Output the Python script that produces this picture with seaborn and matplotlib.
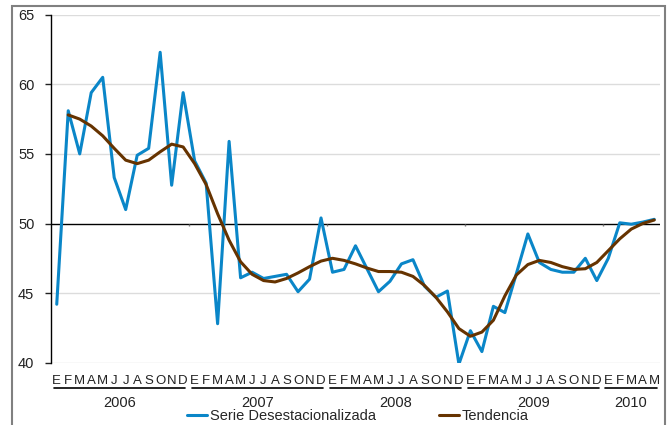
import numpy as np
import pandas as pd
import matplotlib
matplotlib.use("Agg")
import matplotlib.pyplot as plt
import seaborn as sns
from matplotlib.patches import Rectangle

# ---- data ----
month_labels = (["E", "F", "M", "A", "M", "J", "J", "A", "S", "O", "N", "D"] * 4
                + ["E", "F", "M", "A", "M"])
years = ["2006", "2007", "2008", "2009", "2010"]
year_months = [12, 12, 12, 12, 5]

serie = [44.2, 58.1, 55.0, 59.4, 60.5, 53.3, 51.0, 54.9, 55.4, 62.3, 52.75, 59.4,
         54.5, 52.9, 42.8, 55.9, 46.1, 46.5, 46.05, 46.2, 46.35, 45.1, 46.0, 50.4,
         46.5, 46.7, 48.4, 46.75, 45.1, 45.85, 47.1, 47.4, 45.5, 44.7, 45.15, 39.9,
         42.3, 40.8, 44.05, 43.6, 46.4, 49.25, 47.2, 46.7, 46.5, 46.5, 47.5, 45.9,
         47.5, 50.05, 49.95, 50.1, 50.3]
tendencia = [np.nan, 57.8, 57.5, 57.0, 56.3, 55.4, 54.55, 54.3, 54.55, 55.15, 55.7, 55.5,
             54.3, 52.8, 50.7, 48.8, 47.25, 46.35, 45.9, 45.8, 46.05, 46.45, 46.9, 47.3,
             47.5, 47.35, 47.1, 46.8, 46.55, 46.55, 46.5, 46.2, 45.55, 44.7, 43.65, 42.45,
             41.9, 42.2, 43.05, 44.8, 46.3, 47.05, 47.35, 47.2, 46.9, 46.7, 46.75, 47.2,
             48.05, 48.9, 49.6, 50.0, 50.25]

yticks = [40, 45, 50, 55, 60, 65]

# ---- build ----
n = len(serie)
idx = np.arange(n)
df = pd.DataFrame({
    "i": np.concatenate([idx, idx]),
    "valor": serie + tendencia,
    "serie": ["Serie Desestacionalizada"] * n + ["Tendencia"] * n,
})

sns.set_style("white")
plt.rcParams["font.family"] = ["Liberation Sans", "DejaVu Sans"]

fig = plt.figure(figsize=(6.69, 4.25), dpi=100)
ax = fig.add_axes([51 / 669, 1 - 362.7 / 425, (660 - 51) / 669, (362.7 - 14.7) / 425])

palette = {"Serie Desestacionalizada": "#0A86C8", "Tendencia": "#663300"}
sns.lineplot(data=df, x="i", y="valor", hue="serie", palette=palette,
             linewidth=2.2, ax=ax, legend=True)

ax.set_xlim(-0.5, n - 0.5)
ax.set_ylim(40, 65)
ax.set_yticks(yticks)
ax.set_yticklabels([str(t) for t in yticks], fontsize=10.5, color="#222222")
for t in yticks:
    if t != 50:
        ax.axhline(t, color="#dcdcdc", lw=1.0, zorder=0)
ax.axhline(50, color="black", lw=1.0, zorder=1)
# small ticks on the category axis (year boundaries)
bounds = np.cumsum(year_months)[:-1] - 0.5
ax.vlines(bounds, 49.8, 50.0, color="#777777", lw=1.0, zorder=1)

ax.set_xticks(idx)
ax.set_xticklabels(month_labels, fontsize=9.5, color="#222222")
ax.tick_params(axis="x", length=0, pad=9)
ax.tick_params(axis="y", length=4, width=1, pad=8, direction="out", left=True, colors="#222222")
ax.set_xlabel("")
ax.set_ylabel("")
for s in ["top", "right", "bottom"]:
    ax.spines[s].set_visible(False)
ax.spines["left"].set_color("black")
ax.spines["left"].set_linewidth(1.0)

# year group lines and labels
trans = ax.get_xaxis_transform()
start = 0
for y, m in zip(years, year_months):
    x0 = start - 0.25
    x1 = min(start + m - 1 + 0.2, n - 0.5)
    ax.plot([x0, x1], [-0.073, -0.073], transform=trans, color="black", lw=1.2, clip_on=False)
    ax.text((x0 + x1) / 2, -0.117, y, transform=trans, ha="center", va="center",
            fontsize=10.5, color="#222222")
    start += m

# legend
ax.legend_.remove()
handles, labels = ax.get_legend_handles_labels()
fig.legend(handles, labels, loc="center", bbox_to_anchor=(0.535, 0.02), ncol=2,
           frameon=False, fontsize=10.5, handlelength=1.4, handletextpad=0.2,
           columnspacing=4.3)

# outer frame
fig.patches.append(Rectangle((12 / 669, -0.1), (665 - 12) / 669, 1.1 - 6 / 425,
                             transform=fig.transFigure, fill=False,
                             edgecolor="#808080", lw=1.5))

fig.savefig("out.png", dpi=100)
